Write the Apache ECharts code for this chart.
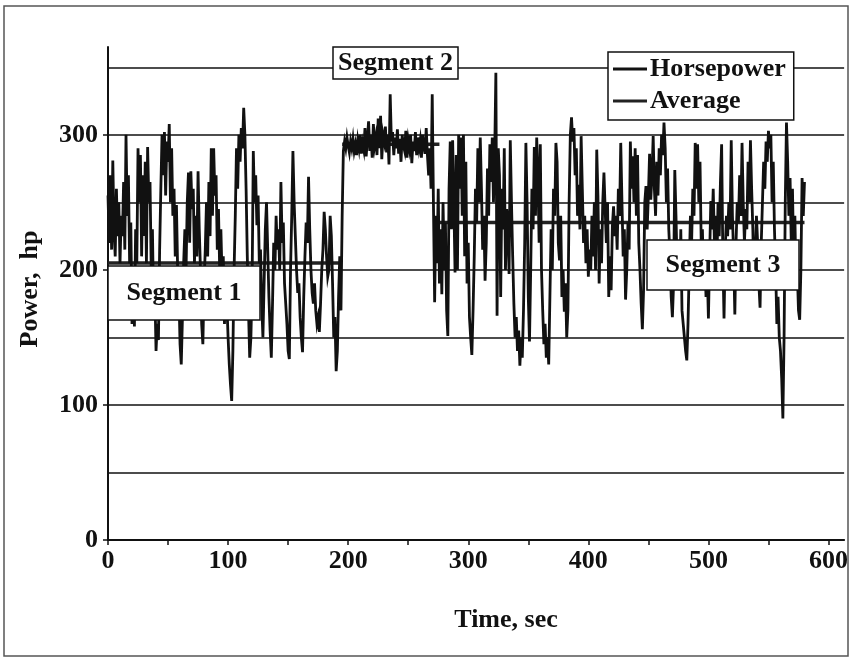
<!DOCTYPE html>
<html>
<head>
<meta charset="utf-8">
<script src="https://cdn.jsdelivr.net/npm/echarts@6/dist/echarts.min.js"></script>
<style>
html,body{margin:0;padding:0;background:#fff;}
#chart{width:851px;height:661px;}
</style>
</head>
<body>
<div id="chart"></div>
<script>
// Horsepower, one value per second, t = 0 .. 580 s
const horsepower = [
  // Segment 1 (0-195 s)
  255,220,270,215,281,230,210,260,225,250,
  205,240,225,265,215,300,240,270,205,235,
  160,200,158,230,205,290,250,285,210,270,
  225,280,205,291,250,265,200,230,170,185,
  140,160,148,215,260,300,270,302,255,295,
  280,308,250,290,240,260,210,248,200,185,
  145,130,165,205,230,200,250,272,220,273,
  245,260,205,240,210,273,230,200,160,145,
  190,215,250,210,265,225,290,240,290,255,
  270,215,245,200,230,195,210,160,200,175,
  150,130,115,103,140,200,240,290,260,300,
  280,305,290,320,300,260,210,170,135,150,
  190,288,250,270,233,255,205,215,175,150,
  190,230,250,215,180,155,135,175,220,200,
  240,215,230,200,265,220,235,190,175,160,
  140,134,200,240,288,250,225,200,183,190,
  165,150,139,180,210,235,220,269,230,200,
  183,175,190,170,160,165,154,175,200,215,
  243,230,210,195,200,240,225,190,150,165,
  125,140,180,210,170,240,
  // Segment 2 (196-283 s)
  288,295,290,298,292,287,295,290,297,288,
  293,285,296,290,300,286,294,289,305,284,
  297,310,288,300,283,308,292,298,285,312,
  290,314,282,300,295,306,287,300,278,330,
  295,302,285,298,290,304,286,297,280,300,
  292,288,303,283,296,290,300,279,295,288,
  302,285,298,290,296,283,300,292,286,305,
  285,270,290,260,330,250,176,240,205,260,
  190,230,182,250,200,235,170,151,
  // Segment 3 (284-580 s)
  260,295,230,296,250,198,285,200,300,260,
  298,240,300,210,280,190,220,165,150,137,
  170,210,260,235,290,250,298,260,215,240,
  192,220,275,240,293,265,298,250,285,346,
  166,290,270,180,260,230,290,200,245,231,
  197,296,250,210,175,150,165,140,155,129,
  150,135,170,220,294,250,180,147,200,260,
  230,291,240,298,270,220,293,200,170,145,
  160,135,150,130,180,230,200,260,240,294,
  280,220,207,240,180,200,169,190,150,170,
  250,300,313,295,305,270,290,240,263,230,
  299,260,220,240,205,230,195,215,200,240,
  210,250,200,289,255,190,230,205,250,272,
  245,220,250,180,210,185,232,247,225,240,
  215,260,240,294,250,210,230,178,200,235,
  215,295,260,284,250,290,240,285,220,200,
  175,156,185,250,262,230,255,286,252,270,
  299,260,240,280,255,290,270,300,285,309,
  290,250,275,230,210,180,165,190,274,240,
  200,215,185,230,170,160,150,140,133,160,
  200,240,220,260,240,294,260,293,250,280,
  220,230,190,210,180,200,164,210,251,230,
  260,220,240,200,250,225,265,293,210,164,
  215,240,225,250,230,296,240,210,167,220,
  250,235,270,240,294,250,220,245,230,280,
  250,296,260,230,185,210,240,220,190,172,
  220,250,280,260,295,280,303,290,300,250,
  280,230,200,160,180,150,140,120,90,150,
  250,309,280,240,268,220,260,207,240,190,
  200,170,163,200,268,240,265
];
const timeStartSec = 0; // first sample time, 1 s per sample

// Segment averages
const segmentNames = ['Segment 1', 'Segment 2', 'Segment 3'];
const segmentStart = [0, 195, 276];
const segmentEnd = [195, 276, 580];
const segmentAverage = [205, 293, 235];

// Axis ticks
const xLabelValues = [0, 100, 200, 300, 400, 500, 600];
const xTickValues = [0, 50, 100, 150, 200, 250, 300, 350, 400, 450, 500, 550, 600];
const yLabelValues = [0, 100, 200, 300];
const gridValues = [50, 100, 150, 200, 250, 300, 350];

const FONT = '"Liberation Serif", "DejaVu Serif", serif';

const hpData = horsepower.map((v, i) => [timeStartSec + i, v]);

const avgSeries = segmentAverage.map((avg, i) => ({
  name: 'Average',
  type: 'line',
  showSymbol: false,
  symbol: 'none',
  z: 2,
  lineStyle: { color: '#222', width: 3.5 },
  itemStyle: { color: '#222' },
  data: [[segmentStart[i], avg], [segmentEnd[i], avg]],
  markLine: i === 0 ? {
    silent: true,
    symbol: 'none',
    label: { show: false },
    lineStyle: { color: '#111', width: 1.5, type: 'solid' },
    data: gridValues.map(v => ({ yAxis: v }))
  } : undefined
}));

const chart = echarts.init(document.getElementById('chart'), null, { renderer: 'canvas' });

function labelBox(x, y, w, h, text) {
  return [
    { type: 'rect', z: 200, shape: { x: x, y: y, width: w, height: h },
      style: { fill: '#fff', stroke: '#111', lineWidth: 1.5 } },
    { type: 'text', z: 201, x: x + w / 2, y: y + h / 2,
      style: { text: text, font: 'bold 26px ' + FONT, fill: '#111',
               align: 'center', verticalAlign: 'middle' } }
  ];
}

chart.setOption({
  animation: false,
  backgroundColor: '#fff',
  grid: { left: 108, right: 5, top: 47, bottom: 121, containLabel: false },
  xAxis: {
    type: 'value',
    min: 0, max: 613, interval: 50,
    axisLine: { show: true, onZero: false, lineStyle: { color: '#111', width: 2 } },
    axisTick: { show: true, length: 5, customValues: xTickValues, lineStyle: { color: '#111', width: 1.5 } },
    axisLabel: {
      customValues: xLabelValues,
      margin: 8,
      color: '#111',
      fontFamily: FONT, fontWeight: 'bold', fontSize: 26,
      formatter: v => (v % 100 === 0 && v <= 600) ? String(v) : ''
    },
    splitLine: { show: false }
  },
  yAxis: {
    type: 'value',
    min: 0, max: 365, interval: 50,
    axisLine: { show: true, lineStyle: { color: '#111', width: 2 } },
    axisTick: { show: true, length: 5, customValues: yLabelValues, lineStyle: { color: '#111', width: 1.5 } },
    axisLabel: {
      customValues: yLabelValues,
      margin: 10,
      color: '#111',
      fontFamily: FONT, fontWeight: 'bold', fontSize: 26,
      formatter: v => (v % 100 === 0 && v <= 300) ? String(v) : ''
    },
    splitLine: { show: false }
  },
  legend: {
    data: ['Horsepower', 'Average'],
    orient: 'vertical',
    left: 608, top: 52,
    icon: 'rect',
    itemWidth: 34, itemHeight: 3,
    itemGap: 6,
    padding: [4, 8, 6, 5],
    backgroundColor: '#fff',
    borderColor: '#111', borderWidth: 1.5, borderRadius: 0,
    textStyle: { fontFamily: FONT, fontWeight: 'bold', fontSize: 26, color: '#111', padding: [0, 0, 0, -2] },
    z: 50
  },
  series: [
    ...avgSeries,
    {
      name: 'Horsepower',
      type: 'line',
      showSymbol: false,
      symbol: 'none',
      z: 3,
      sampling: null,
      lineStyle: { color: '#111', width: 2.8, join: 'miter' },
      itemStyle: { color: '#111' },
      data: hpData
    }
  ],
  graphic: [
    { type: 'rect', z: 0, shape: { x: 4, y: 6, width: 844, height: 650 },
      style: { fill: 'none', stroke: '#555', lineWidth: 1.5 } },
    { type: 'text', x: 30, y: 289, rotation: Math.PI / 2, z: 100,
      style: { text: 'Power,  hp', font: 'bold 26px ' + FONT, fill: '#111',
               align: 'center', verticalAlign: 'middle' } },
    { type: 'text', x: 506, y: 620, z: 100,
      style: { text: 'Time, sec', font: 'bold 26px ' + FONT, fill: '#111',
               align: 'center', verticalAlign: 'middle' } },
    ...labelBox(108, 266, 152, 54, segmentNames[0]),
    ...labelBox(333, 47, 125, 32, segmentNames[1]),
    ...labelBox(647, 240, 152, 50, segmentNames[2])
  ]
});
</script>
</body>
</html>
